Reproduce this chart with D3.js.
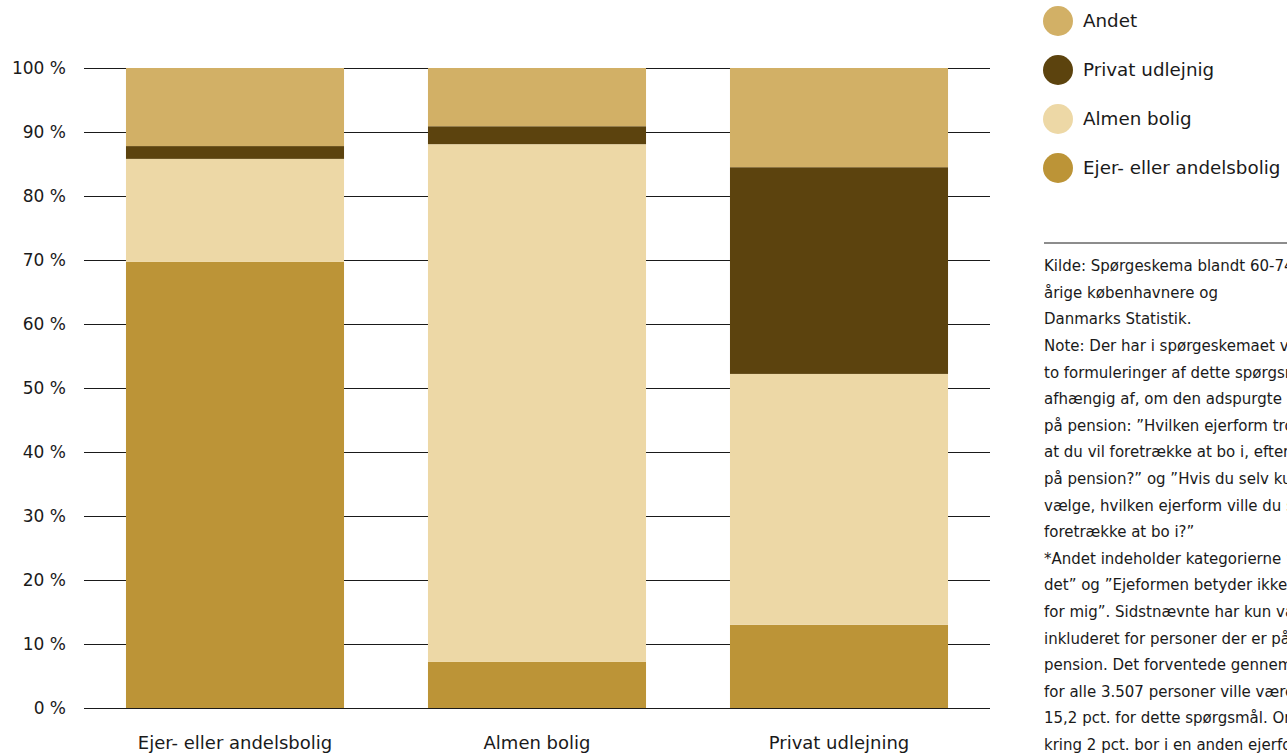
<!DOCTYPE html>
<html><head><meta charset="utf-8">
<script src="https://cdn.jsdelivr.net/npm/d3@7"></script>
<style>
html,body{margin:0;padding:0;background:#fff;overflow:hidden}
svg{display:block;font-family:"DejaVu Sans",sans-serif}
</style></head>
<body>
<svg id="c" width="1287" height="753"></svg>
<script>
const categories = ["Ejer- eller andelsbolig", "Almen bolig", "Privat udlejning"];
const seriesNames = ["Ejer- eller andelsbolig", "Almen bolig", "Privat udlejnig", "Andet"];
const ejer = [69.7, 7.2, 13.0];
const almen = [16.1, 80.9, 39.2];
const privat = [2.0, 2.8, 32.3];
const andet = [12.2, 9.1, 15.5];
const yTicks = [0, 10, 20, 30, 40, 50, 60, 70, 80, 90, 100];
const colors = ["#BC9437", "#EDD8A6", "#5C430E", "#D2B066"];
const legendOrder = ["Andet", "Privat udlejnig", "Almen bolig", "Ejer- eller andelsbolig"];
const noteLines = [
 "Kilde: Spørgeskema blandt 60-74-",
 "årige københavnere og",
 "Danmarks Statistik.",
 "Note: Der har i spørgeskemaet været",
 "to formuleringer af dette spørgsmål,",
 "afhængig af, om den adspurgte er gået",
 "på pension: \u201DHvilken ejerform tror du",
 "at du vil foretrække at bo i, efter du går",
 "på pension?\u201D og \u201DHvis du selv kunne",
 "vælge, hvilken ejerform ville du så",
 "foretrække at bo i?\u201D",
 "*Andet indeholder kategorierne \u201DVed ikke/",
 "det\u201D og \u201DEjeformen betyder ikke noget",
 "for mig\u201D. Sidstnævnte har kun været",
 "inkluderet for personer der er på",
 "pension. Det forventede gennemsnit",
 "for alle 3.507 personer ville være",
 "15,2 pct. for dette spørgsmål. Om-",
 "kring 2 pct. bor i en anden ejerform"
];

const svg = d3.select("#c");
const seriesVals = [ejer, almen, privat, andet];
const data = categories.map((c, i) => {
  const o = {cat: c};
  seriesNames.forEach((s, j) => o[s] = seriesVals[j][i]);
  return o;
});
const stack = d3.stack().keys(seriesNames)(data);
const color = d3.scaleOrdinal().domain(seriesNames).range(colors);

const x = d3.scaleBand().domain(categories).range([84, 990]).paddingInner(0.278).paddingOuter(0.139);
const y = d3.scaleLinear().domain([0, 100]).range([708, 68]);

// grid
const yAxis = d3.axisLeft(y).tickValues(yTicks).tickSize(-(990 - 84)).tickFormat(d => d + " %");
const g = svg.append("g").attr("transform", "translate(84,0)").call(yAxis);
g.select(".domain").remove();
g.selectAll(".tick line").attr("stroke", "#1a1a1a").attr("stroke-width", 1.2);
g.selectAll(".tick text").attr("x", -18).attr("fill", "#1a1a1a").attr("font-size", 17)
  .attr("font-family", "'DejaVu Sans',sans-serif").attr("dy", "0.35em");

// bars
svg.append("g").selectAll("g").data(stack).join("g").attr("fill", d => color(d.key))
  .selectAll("rect").data(d => d).join("rect")
  .attr("x", d => x(d.data.cat)).attr("width", x.bandwidth())
  .attr("y", d => y(d[1])).attr("height", d => y(d[0]) - y(d[1]));

// x axis labels
const xAxis = d3.axisBottom(x).tickSize(0);
const gx = svg.append("g").attr("transform", "translate(0,708)").call(xAxis);
gx.select(".domain").remove();
gx.selectAll(".tick text").attr("y", 35).attr("dy", "0.35em").attr("fill", "#1a1a1a")
  .attr("font-size", 18).attr("font-family", "'DejaVu Sans',sans-serif");

// legend
const lg = svg.append("g");
legendOrder.forEach((s, i) => {
  const cy = 21 + i * 49;
  lg.append("circle").attr("cx", 1058).attr("cy", cy).attr("r", 15).attr("fill", color(s));
  lg.append("text").attr("x", 1083).attr("y", cy).attr("dy", "0.35em").attr("font-size", 18.3)
    .attr("fill", "#1a1a1a").text(s);
});

// separator and notes
svg.append("line").attr("x1", 1044).attr("x2", 1287).attr("y1", 243).attr("y2", 243)
  .attr("stroke", "#1a1a1a").attr("stroke-width", 1);
const nt = svg.append("g");
noteLines.forEach((t, i) => {
  nt.append("text").attr("x", 1044).attr("y", 266 + i * 26.6).attr("dy", "0.35em")
    .attr("font-size", 15).attr("fill", "#1a1a1a").text(t);
});
</script>
</body></html>
